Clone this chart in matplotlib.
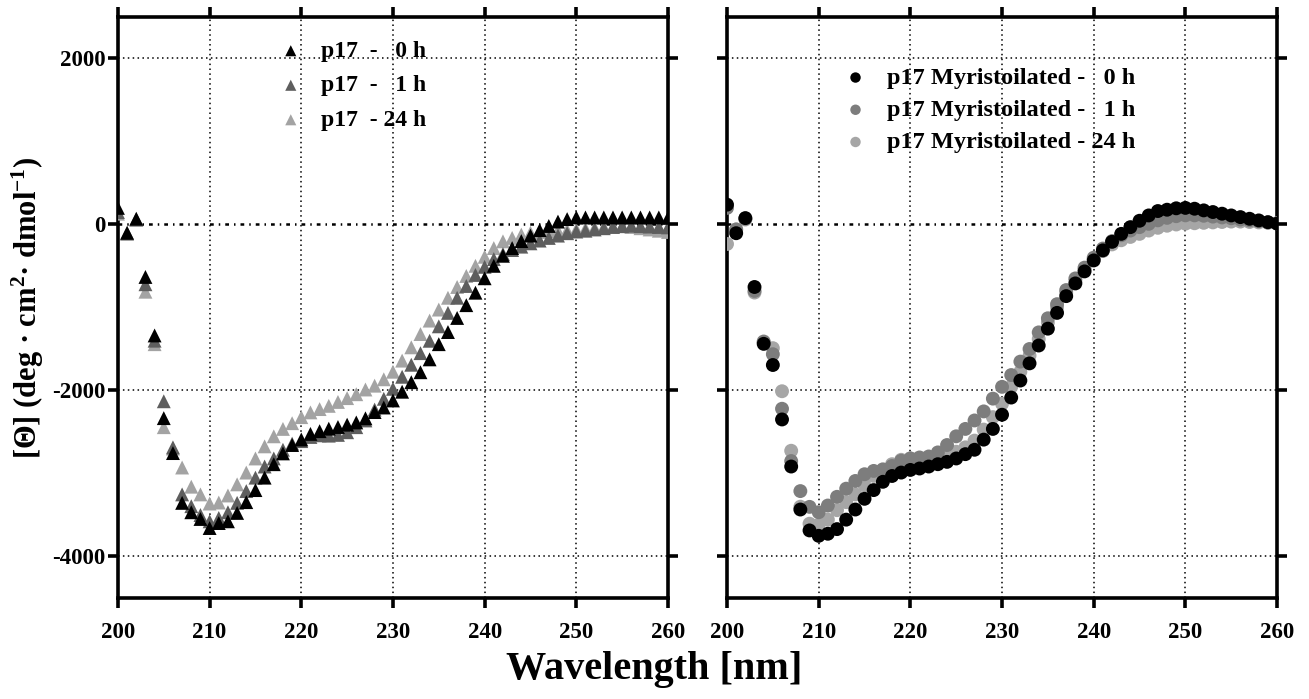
import numpy as np
import matplotlib
matplotlib.use("Agg")
import matplotlib.pyplot as plt

plt.rcParams['font.family'] = ['Liberation Serif', 'DejaVu Serif']
plt.rcParams['font.weight'] = 'bold'
plt.rcParams['mathtext.fontset'] = 'custom'
plt.rcParams['mathtext.rm'] = 'Liberation Serif:bold'
plt.rcParams['mathtext.bf'] = 'Liberation Serif:bold'
plt.rcParams['mathtext.default'] = 'bf'
plt.rcParams['axes.unicode_minus'] = False

wavelength = list(range(200, 261))

p17_0h = [200, -100, 70, -632, -1337, -2333, -2754, -3354, -3467, -3548,
          -3657, -3597, -3576, -3475, -3345, -3200, -3050, -2888, -2758, -2657,
          -2590, -2523, -2490, -2460, -2440, -2412, -2385, -2335, -2260, -2205,
          -2120, -2015, -1900, -1780, -1625, -1442, -1296, -1126, -972, -822,
          -648, -498, -377, -284, -200, -134, -68, -18, 35, 65,
          85, 85, 85, 85, 85, 85, 85, 85, 85, 85, 80]
p17_1h = [150, -110, 60, -720, -1400, -2130, -2685, -3252, -3394, -3500,
          -3576, -3536, -3467, -3354, -3212, -3050, -2916, -2819, -2714, -2640,
          -2610, -2560, -2540, -2544, -2535, -2503, -2442, -2361, -2230, -2100,
          -1980, -1835, -1690, -1550, -1401, -1227, -1065, -883, -741, -608,
          -510, -417, -356, -308, -267, -227, -194, -162, -134, -105,
          -85, -75, -60, -45, -30, -20, -15, -20, -25, -30, -35]
p17_24h = [130, -100, 60, -810, -1442, -2442, -2700, -2928, -3159, -3252,
           -3362, -3350, -3265, -3131, -2989, -2819, -2673, -2552, -2463, -2394,
           -2321, -2264, -2224, -2185, -2138, -2092, -2045, -1988, -1942, -1865,
           -1774, -1640, -1480, -1320, -1158, -1025, -883, -753, -620, -498,
           -389, -284, -203, -162, -122, -100, -90, -80, -75, -70,
           -60, -50, -40, -30, -25, -20, -30, -45, -60, -75, -90]

myr_0h = [239, -105, 77, -753, -1438, -1693, -2349, -2916, -3434, -3686,
          -3751, -3726, -3670, -3556, -3434, -3305, -3200, -3100, -3030, -2989,
          -2957, -2940, -2916, -2888, -2860, -2819, -2767, -2714, -2592, -2463,
          -2292, -2085, -1880, -1673, -1458, -1255, -1065, -863, -710, -565,
          -433, -312, -209, -113, -32, 45, 109, 162, 178, 195,
          200, 190, 170, 150, 130, 109, 89, 69, 49, 28, 10]
myr_1h = [200, -60, 70, -800, -1410, -1563, -2220, -2850, -3212, -3402,
          -3467, -3386, -3281, -3183, -3090, -3009, -2969, -2950, -2910, -2847,
          -2819, -2807, -2795, -2746, -2657, -2552, -2463, -2361, -2252, -2098,
          -1956, -1814, -1652, -1500, -1300, -1130, -960, -790, -650, -520,
          -400, -290, -200, -130, -73, -32, 8, 50, 80, 100,
          110, 110, 105, 95, 85, 75, 60, 50, 40, 25, 15]
myr_24h = [-235, -60, 60, -820, -1420, -1490, -2009, -2726, -3400, -3605,
           -3617, -3556, -3442, -3345, -3252, -3143, -3029, -2960, -2888, -2835,
           -2819, -2819, -2807, -2795, -2767, -2738, -2685, -2604, -2471, -2321,
           -2159, -1956, -1774, -1580, -1380, -1180, -1000, -820, -680, -545,
           -420, -320, -240, -190, -150, -113, -73, -40, -15, 0,
           10, 15, 20, 25, 30, 35, 35, 30, 25, 20, 15]

left_labels = ['p17  -   0 h', 'p17  -   1 h', 'p17  - 24 h']
right_labels = ['p17 Myristoilated -   0 h', 'p17 Myristoilated -   1 h',
                'p17 Myristoilated - 24 h']
x_ticks = [200, 210, 220, 230, 240, 250, 260]
y_ticks = [2000, 0, -2000, -4000]
y_tick_labels = ['2000', '0', '-2000', '-4000']

fig = plt.figure(figsize=(13.09, 6.99), dpi=100)
axL = fig.add_axes([0.0901, 0.1445, 0.4202, 0.8312])
axR = fig.add_axes([0.5554, 0.1445, 0.4202, 0.8312])

def style(ax, show_ylabels):
    ax.set_xlim(200, 260)
    ax.set_ylim(-4500, 2500)
    ax.set_xticks(x_ticks)
    ax.set_xticklabels([str(t) for t in x_ticks])
    ax.set_yticks(y_ticks)
    if show_ylabels:
        ax.set_yticklabels(y_tick_labels)
    else:
        ax.set_yticklabels([])
    for s in ax.spines.values():
        s.set_linewidth(2.6)
    ax.tick_params(direction='out', length=7, width=2.6, top=True, right=True,
                   labelsize=16.5)
    ax.tick_params(axis='x', pad=10)
    ax.tick_params(axis='y', pad=2)
    for t in ax.get_xticklabels() + ax.get_yticklabels():
        t.set_fontweight('bold')
    for xv in x_ticks[1:-1]:
        ax.axvline(xv, color='black', lw=1.1, ls=(0, (1, 2.2)), zorder=0.5)
    for yv in [2000, -2000, -4000]:
        ax.axhline(yv, color='black', lw=1.1, ls=(0, (1, 2.2)), zorder=0.5)
    ax.axhline(0, color='black', lw=1.8, ls=(0, (1.5, 2, 0.6, 2)), zorder=0.5)

style(axL, True)
style(axR, False)

ms = 100
axL.scatter(wavelength, p17_24h, marker='^', s=ms, color='#a3a3a3', edgecolors='none', zorder=3, label=left_labels[2])
axL.scatter(wavelength, p17_1h, marker='^', s=ms, color='#5e5e5e', edgecolors='none', zorder=4, label=left_labels[1])
axL.scatter(wavelength, p17_0h, marker='^', s=ms, color='#000000', edgecolors='none', zorder=5, label=left_labels[0])

axR.scatter(wavelength, myr_24h, marker='o', s=ms, color='#a6a6a6', edgecolors='none', zorder=3, label=right_labels[2])
axR.scatter(wavelength, myr_1h, marker='o', s=ms, color='#7d7d7d', edgecolors='none', zorder=4, label=right_labels[1])
axR.scatter(wavelength, myr_0h, marker='o', s=ms, color='#000000', edgecolors='none', zorder=5, label=right_labels[0])

def add_legend(ax, anchor, spacing, size, mscale):
    h, l = ax.get_legend_handles_labels()
    leg = ax.legend(h[::-1], l[::-1], loc='upper left', bbox_to_anchor=anchor,
                    frameon=False, prop={'weight': 'bold', 'size': size},
                    markerscale=mscale, handletextpad=0.7, labelspacing=spacing,
                    borderpad=0, handlelength=1.2)
    leg.set_zorder(10)

add_legend(axL, (0.267, 0.98), 0.55, 17, 0.8)
add_legend(axR, (0.185, 0.935), 0.42, 17.5, 0.75)

axL.set_ylabel(r'[Θ] (deg · cm$^{\mathbf{2}}$· dmol$^{\mathbf{-1}}$)', fontsize=22,
               fontweight='bold')
axL.yaxis.set_label_coords(-0.13, 0.5)
fig.text(0.5, 0.042, 'Wavelength [nm]', ha='center', va='center', fontsize=29,
         fontweight='bold')

fig.savefig('out.png', dpi=100)
